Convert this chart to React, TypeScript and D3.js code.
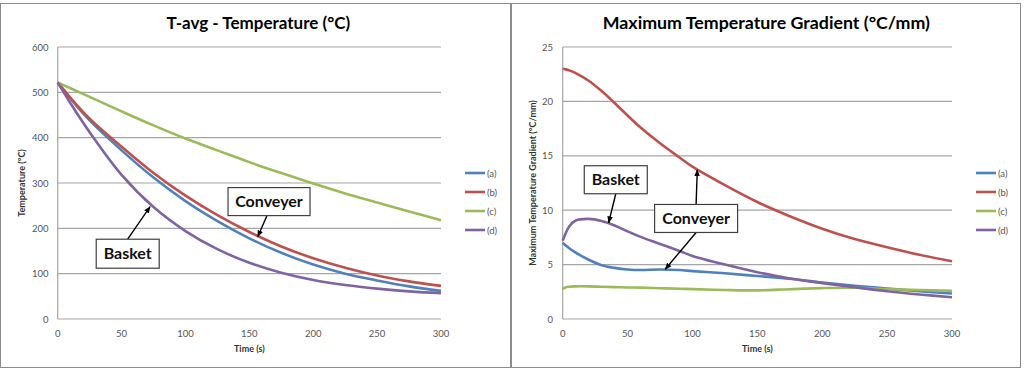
import React from 'react';
import * as d3 from 'd3';

// ---------- data ----------
const seriesNames = ['(a)', '(b)', '(c)', '(d)'];
const seriesColors = ['#4F81BD', '#C0504D', '#9BBB59', '#8064A2'];

const leftTimes = [0, 10, 25, 50, 75, 100, 125, 150, 175, 200, 225, 250, 275, 300];
const leftA = [522, 486, 438, 372, 312, 260, 216, 178, 146, 120, 100, 85, 72, 62];
const leftB = [522, 488, 442, 380, 322, 272, 229, 192, 160, 134, 113, 96, 83, 73];
const leftC = [522, 509, 490, 458, 427, 398, 372, 346, 322, 299, 277, 257, 237, 218];
const leftD = [522, 476, 412, 318, 247, 194, 154, 124, 102, 86, 75, 67, 61, 57];

const rightTimes = [0, 2, 5, 10, 20, 30, 40, 50, 60, 75, 90, 100, 125, 150, 175, 200, 225, 250, 275, 300];
const rightA = [7.0, 6.8, 6.5, 6.1, 5.45, 4.95, 4.7, 4.55, 4.5, 4.55, 4.5, 4.4, 4.2, 3.95, 3.7, 3.35, 3.05, 2.8, 2.55, 2.35];
const rightB = [23.0, 22.95, 22.85, 22.6, 21.9, 20.95, 19.85, 18.7, 17.6, 16.15, 14.85, 14.0, 12.3, 10.75, 9.45, 8.3, 7.35, 6.6, 5.9, 5.3];
const rightC = [2.75, 2.9, 2.97, 3.0, 3.0, 2.96, 2.93, 2.9, 2.88, 2.83, 2.78, 2.75, 2.67, 2.63, 2.74, 2.84, 2.87, 2.75, 2.66, 2.6];
const rightD = [7.2, 7.8, 8.5, 9.05, 9.2, 9.0, 8.6, 8.05, 7.55, 6.9, 6.25, 5.8, 5.0, 4.3, 3.72, 3.3, 2.92, 2.55, 2.25, 2.0];

const xTicks = [0, 50, 100, 150, 200, 250, 300];
const leftYTicks = [0, 100, 200, 300, 400, 500, 600];
const rightYTicks = [0, 5, 10, 15, 20, 25];

// annotations: box centre and arrow tips in data units
const leftNotes = [
  { label: 'Conveyer', cx: 165.4, cy: 259, w: 82, h: 28, tips: [{ t: 156.6, v: 181.5, from: 'bottom', dx: -2 }] },
  { label: 'Basket', cx: 54.8, cy: 144, w: 63, h: 29, tips: [{ t: 72.3, v: 247.7, from: 'top', dx: 0 }] },
];
const rightNotes = [
  { label: 'Basket', cx: 40.9, cy: 12.8, w: 63, h: 28, tips: [{ t: 35.4, v: 8.85, from: 'bottom', dx: 0 }] },
  {
    label: 'Conveyer', cx: 102.8, cy: 9.24, w: 83, h: 28,
    tips: [{ t: 103.7, v: 13.7, from: 'top', dx: 0 }, { t: 79, v: 4.57, from: 'bottom', dx: 0 }],
  },
];

const FONT = 'Lato, "Open Sans", sans-serif';

type Note = { label: string; cx: number; cy: number; w: number; h: number; tips: { t: number; v: number; from: string; dx: number }[] };

function Chart(props: {
  id: string;
  panelX: number;
  panelW: number;
  title: string;
  titleSize: number;
  yTitle: string;
  times: number[];
  series: number[][];
  yMax: number;
  yTicks: number[];
  plotX0: number;
  plotX1: number;
  yLabelX: number;
  yTitleX: number;
  legendX: number;
  notes: Note[];
}) {
  const { panelX, panelW, title, titleSize, yTitle, times, series, yMax, yTicks, plotX0, plotX1, yLabelX, yTitleX, legendX, notes, id } = props;
  const x = d3.scaleLinear().domain([0, 300]).range([plotX0, plotX1]);
  const y = d3.scaleLinear().domain([0, yMax]).range([319, 47]);
  const line = d3
    .line<number>()
    .x((_, i) => x(times[i]))
    .y((d) => y(d))
    .curve(d3.curveCatmullRom.alpha(0.5));
  const legendYs = [173, 192, 211, 230];
  const midX = (plotX0 + plotX1) / 2;
  return (
    <g>
      <defs>
        <marker id={`arr-${id}`} viewBox="0 0 10 10" refX="9" refY="5" markerWidth="7" markerHeight="7" orient="auto-start-reverse" markerUnits="userSpaceOnUse">
          <path d="M0,1 L10,5 L0,9 z" fill="#000" />
        </marker>
      </defs>
      <rect x={panelX + 0.5} y={3.5} width={panelW} height={364} fill="#fff" stroke="#8c8c8c" strokeWidth={1} />
      <text x={(plotX0 + plotX1) / 2 + 9} y={29} textAnchor="middle" fontFamily={FONT} fontWeight={700} fontSize={titleSize} fill="#000">
        {title}
      </text>
      {yTicks.map((t) => (
        <g key={t}>
          <line x1={plotX0} x2={plotX1} y1={y(t)} y2={y(t)} stroke="#a6a6a6" strokeWidth={1.2} />
          <text x={yLabelX} y={y(t) + 3.5} textAnchor="end" fontFamily={FONT} fontSize={9.5} fill="#555">
            {t}
          </text>
        </g>
      ))}
      <line x1={plotX0} x2={plotX0} y1={y(yMax)} y2={y(0)} stroke="#a6a6a6" strokeWidth={1.2} />
      {xTicks.map((t) => (
        <text key={t} x={x(t)} y={336.5} textAnchor="middle" fontFamily={FONT} fontSize={9.5} fill="#555">
          {t}
        </text>
      ))}
      <text x={midX} y={352} textAnchor="middle" fontFamily={FONT} fontWeight={700} fontSize={9} fill="#333">
        Time (s)
      </text>
      <text
        transform={`translate(${yTitleX},183) rotate(-90)`}
        textAnchor="middle"
        fontFamily={FONT}
        fontWeight={700}
        fontSize={9}
        fill="#333"
      >
        {yTitle}
      </text>
      {series.map((s, i) => (
        <path key={i} d={line(s) || ''} fill="none" stroke={seriesColors[i]} strokeWidth={2.6} strokeLinejoin="round" />
      ))}
      {seriesNames.map((n, i) => (
        <g key={n}>
          <line x1={legendX} x2={legendX + 20} y1={legendYs[i]} y2={legendYs[i]} stroke={seriesColors[i]} strokeWidth={2.6} />
          <text x={legendX + 22} y={legendYs[i] + 3.5} fontFamily={FONT} fontSize={9.5} fill="#555">
            {n}
          </text>
        </g>
      ))}
      {notes.map((nt) => {
        const bx = x(nt.cx);
        const by = y(nt.cy);
        return (
          <g key={nt.label}>
            {nt.tips.map((tp, k) => {
              const sy = tp.from === 'top' ? by - nt.h / 2 : by + nt.h / 2;
              return (
                <line
                  key={k}
                  x1={bx + tp.dx}
                  y1={sy}
                  x2={x(tp.t)}
                  y2={y(tp.v)}
                  stroke="#000"
                  strokeWidth={1.4}
                  markerEnd={`url(#arr-${id})`}
                />
              );
            })}
            <rect x={bx - nt.w / 2} y={by - nt.h / 2} width={nt.w} height={nt.h} fill="#fff" stroke="#404040" strokeWidth={1.2} />
            <text x={bx} y={by + 5.5} textAnchor="middle" fontFamily={FONT} fontWeight={700} fontSize={16} fill="#111">
              {nt.label}
            </text>
          </g>
        );
      })}
    </g>
  );
}

export default function App() {
  return (
    <svg width={1024} height={370} style={{ position: 'absolute', left: 0, top: 0, background: '#fff' }}>
      <rect x={0} y={0} width={1024} height={370} fill="#fff" />
      <Chart
        id="l"
        panelX={0}
        panelW={510}
        title="T-avg - Temperature (°C)"
        titleSize={17}
        yTitle="Temperature (°C)"
        times={leftTimes}
        series={[leftA, leftB, leftC, leftD]}
        yMax={600}
        yTicks={leftYTicks}
        plotX0={57.7}
        plotX1={441}
        yLabelX={48.5}
        yTitleX={25}
        legendX={465}
        notes={leftNotes}
      />
      <Chart
        id="r"
        panelX={511}
        panelW={509}
        title="Maximum Temperature Gradient (°C/mm)"
        titleSize={17.8}
        yTitle="Maximum Temperature Gradient (°C/mm)"
        times={rightTimes}
        series={[rightA, rightB, rightC, rightD]}
        yMax={25}
        yTicks={rightYTicks}
        plotX0={562.7}
        plotX1={952}
        yLabelX={553}
        yTitleX={535.5}
        legendX={976}
        notes={rightNotes}
      />
    </svg>
  );
}
